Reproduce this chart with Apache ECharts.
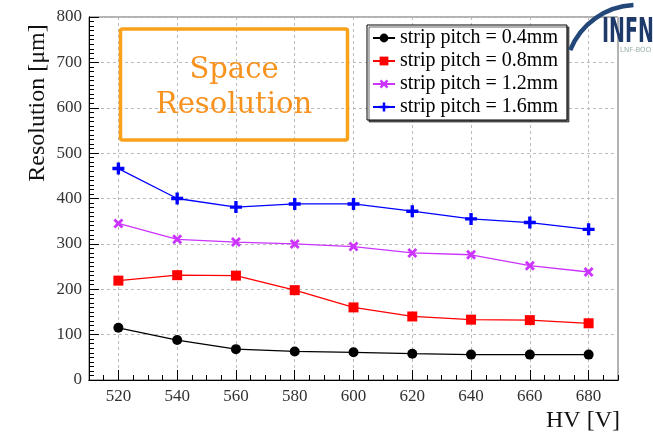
<!DOCTYPE html>
<html><head><meta charset="utf-8">
<script src="https://cdn.jsdelivr.net/npm/echarts@6/dist/echarts.min.js"></script>
<style>html,body{margin:0;padding:0;background:#fff}#c{width:653px;height:435px}</style>
</head><body><div id="c"></div>
<script>
var hv = [520, 540, 560, 580, 600, 620, 640, 660, 680];
var xTicks = [520, 540, 560, 580, 600, 620, 640, 660, 680];
var yTicks = [0, 100, 200, 300, 400, 500, 600, 700, 800];
var pitch04 = [115, 88, 68, 63, 61, 58, 56, 56, 56];
var pitch08 = [219, 231, 230, 198, 160, 140, 133, 132, 125];
var pitch12 = [345, 310, 304, 300, 294, 280, 276, 252, 238];
var pitch16 = [466, 400, 381, 388, 388, 372, 355, 347, 332];
var seriesNames = ['strip pitch = 0.4mm', 'strip pitch = 0.8mm', 'strip pitch = 1.2mm', 'strip pitch = 1.6mm'];

var serif = '"Liberation Serif", "DejaVu Serif", serif';
function pairs(v) { return hv.map(function (x, i) { return [x, v[i]]; }); }
var xShape = 'path://M2,0 L5,3 L8,0 L10,2 L7,5 L10,8 L8,10 L5,7 L2,10 L0,8 L3,5 L0,2 Z';
var plusShape = 'path://M3.6,0 L6.4,0 L6.4,3.6 L10,3.6 L10,6.4 L6.4,6.4 L6.4,10 L3.6,10 L3.6,6.4 L0,6.4 L0,3.6 L3.6,3.6 Z';

function mk(name, data, color, symbol, size) {
  return {
    name: name, type: 'line', data: pairs(data), symbol: symbol, symbolSize: size,
    xAxisIndex: 0, yAxisIndex: 0,
    itemStyle: { color: color }, lineStyle: { color: color, width: 1.3 }, z: 3, animation: false
  };
}

var chart = echarts.init(document.getElementById('c'), null, { renderer: 'canvas' });
chart.setOption({
  animation: false,
  backgroundColor: '#fff',
  grid: { left: 89, right: 35, top: 17, bottom: 55, show: true, borderColor: '#666', borderWidth: 1, backgroundColor: 'transparent' },
  legend: {
    orient: 'vertical', left: 367, top: 25, itemWidth: 22, itemHeight: 11, itemGap: 3,
    backgroundColor: '#fff', borderColor: '#000', borderWidth: 1, borderRadius: 0,
    padding: [3, 9, 3, 5], shadowColor: 'rgba(0,0,0,0.6)', shadowOffsetX: 2, shadowOffsetY: 2,
    textStyle: { fontFamily: serif, fontSize: 20, color: '#000', lineHeight: 18 },
    data: seriesNames
  },
  xAxis: [{
    type: 'value', min: 510, max: 690, interval: 10,
    axisLine: { lineStyle: { color: '#000', width: 1 } },
    axisTick: { inside: true, length: 10, customValues: xTicks, lineStyle: { color: '#000' } },
    axisLabel: { customValues: xTicks, fontFamily: serif, fontSize: 17, color: '#333', margin: 8 },
    splitLine: { show: true, lineStyle: { color: '#bbb', type: [3, 3], width: 1 } }
  }, {
    type: 'value', position: 'bottom', min: 510, max: 690, interval: 5, offset: 0,
    axisLine: { show: true, onZero: false, lineStyle: { color: '#000', width: 1 } },
    axisLabel: { show: false }, splitLine: { show: false },
    axisTick: { show: true, inside: true, length: 5, lineStyle: { color: '#000', width: 1 } }
  }],
  yAxis: [{
    type: 'value', min: 0, max: 800, interval: 100,
    axisLine: { show: true, lineStyle: { color: '#000', width: 1 } },
    axisTick: { show: true, inside: true, length: 10, lineStyle: { color: '#000' } },
    axisLabel: { fontFamily: serif, fontSize: 17, color: '#333', margin: 7,
      formatter: function (v) { return yTicks.indexOf(v) >= 0 ? String(v) : ''; } },
    splitLine: { show: true, lineStyle: { color: '#bbb', type: [3, 3], width: 1 } }
  }, {
    type: 'value', position: 'left', min: 0, max: 800, interval: 10, offset: 0,
    axisLine: { show: true, onZero: false, lineStyle: { color: '#000', width: 1 } },
    axisLabel: { show: true, inside: true, color: 'rgba(0,0,0,0)', formatter: function () { return ''; } },
    splitLine: { show: false },
    axisTick: { show: true, inside: true, length: 5, lineStyle: { color: '#000', width: 1 } }
  }],
  series: [
    mk(seriesNames[0], pitch04, '#000000', 'circle', 10),
    mk(seriesNames[1], pitch08, '#ff0000', 'rect', 10),
    mk(seriesNames[2], pitch12, '#cc33ff', xShape, 10),
    mk(seriesNames[3], pitch16, '#0000ff', plusShape, 12)
  ],
  graphic: [
    { type: 'rect', shape: { x: 120.5, y: 29, width: 227, height: 111, r: 2 },
      style: { fill: 'rgba(255,255,255,0)', stroke: '#f9a11b', lineWidth: 3.5 }, z: 10 },
    { type: 'text', x: 234, y: 70, style: { text: 'Space', font: '29px "DejaVu Serif", serif', fill: '#f7921e', align: 'center', verticalAlign: 'middle' }, z: 10 },
    { type: 'text', x: 234, y: 105, style: { text: 'Resolution', font: '29px "DejaVu Serif", serif', fill: '#f7921e', align: 'center', verticalAlign: 'middle' }, z: 10 },
    { type: 'text', x: 38, y: 103, rotation: Math.PI / 2,
      style: { text: 'Resolution [\u03bcm]', font: '24px ' + serif, fill: '#111', align: 'center', verticalAlign: 'middle' } },
    { type: 'text', x: 620, y: 421,
      style: { text: 'HV [V]', font: '24px ' + serif, fill: '#111', align: 'right', verticalAlign: 'middle' } },
    { type: 'arc', shape: { cx: 637, cy: 77, r: 72, startAngle: -2.76, endAngle: -1.62 },
      style: { stroke: '#24477a', lineWidth: 4.5, fill: null }, z: 12 },
    { type: 'text', x: 602, y: 33, scaleX: 0.62,
      style: { text: 'INFN', font: 'bold 34px "DejaVu Sans Condensed", "DejaVu Sans", sans-serif', fill: '#1d3a6a', align: 'left', verticalAlign: 'middle' }, z: 12 },
    { type: 'text', x: 620, y: 50,
      style: { text: 'LNF-BOO', font: '7px "DejaVu Sans", sans-serif', fill: '#9ab0a8', align: 'left', verticalAlign: 'middle' }, z: 12 }
  ]
});
</script></body></html>
